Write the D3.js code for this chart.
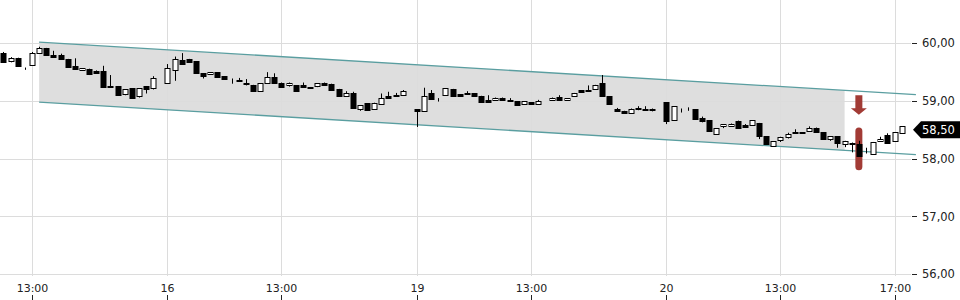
<!DOCTYPE html>
<html>
<head>
<meta charset="utf-8">
<script src="https://cdn.jsdelivr.net/npm/d3@7"></script>
<style>
  html, body { margin: 0; padding: 0; background: #fff; }
  svg { display: block; }
  text { font-family: "DejaVu Sans", sans-serif; }
</style>
</head>
<body>
<svg id="chart" width="960" height="300"></svg>
<script>
// ---- data ----
const startIndex = 12; // 15-minute bars, 35 per day (09:00-17:30)
const opens = [59.84,59.69,59.75,59.58,59.62,59.84,59.92,59.80,59.80,59.73,59.61,59.53,59.56,59.52,59.52,59.26,59.26,59.12,59.22,59.08,59.26,59.22,59.26,
  59.32,59.53,59.71,59.72,59.69,59.48,59.46,59.50,59.43,59.36,59.37,59.32,59.28,59.17,59.31,59.42,59.32,59.28,59.27,59.27,59.24,59.26,59.32,59.30,59.21,59.08,59.14,58.86,58.96,58.86,58.94,59.08,59.08,59.10,59.09,
  58.86,58.82,59.13,59.01,59.11,59.21,59.12,59.13,59.13,59.09,59.02,59.01,59.06,59.02,59.00,58.95,58.98,58.95,59.00,59.01,59.07,59.01,59.08,59.19,59.19,59.21,59.31,59.08,58.86,58.82,58.79,58.88,58.87,58.84,58.71,
  58.98,58.67,58.87,58.86,58.86,58.70,58.67,58.42,58.56,58.57,58.66,58.58,58.58,58.62,58.39,58.22,58.32,58.38,58.47,58.46,58.48,58.54,58.46,58.35,58.39,58.26,58.28,58.26,58.09,58.09,58.30,58.41,58.30,58.45,58.50];
const highs = [59.85,59.76,59.75,59.58,59.85,59.94,59.92,59.87,59.82,59.73,59.74,59.57,59.56,59.53,59.61,59.45,59.26,59.20,59.22,59.22,59.26,59.43,59.26,
  59.64,59.77,59.83,59.73,59.69,59.48,59.50,59.50,59.43,59.39,59.40,59.38,59.28,59.31,59.50,59.48,59.32,59.32,59.27,59.32,59.24,59.31,59.32,59.30,59.21,59.17,59.16,58.93,58.96,58.97,59.13,59.16,59.14,59.19,59.09,
  58.86,59.23,59.19,59.05,59.22,59.21,59.12,59.17,59.13,59.09,59.10,59.06,59.06,59.05,59.00,59.00,58.98,59.02,59.00,59.06,59.10,59.05,59.14,59.19,59.27,59.28,59.45,59.08,58.88,58.83,58.87,58.91,58.91,58.87,58.71,
  58.98,58.91,58.87,58.89,58.86,58.73,58.67,58.53,58.60,58.61,58.66,58.60,58.67,58.62,58.39,58.30,58.38,58.45,58.51,58.46,58.56,58.54,58.46,58.39,58.39,58.31,58.28,58.31,58.19,58.29,58.38,58.44,58.46,58.56,58.50];
const lows = [59.67,59.67,59.60,59.54,59.62,59.84,59.78,59.77,59.72,59.59,59.56,59.53,59.45,59.47,59.25,59.24,59.10,59.10,59.06,59.06,59.13,59.20,59.26,
  59.30,59.35,59.64,59.68,59.48,59.39,59.46,59.40,59.38,59.30,59.35,59.27,59.17,59.17,59.31,59.32,59.25,59.25,59.17,59.25,59.22,59.24,59.26,59.19,59.09,59.08,58.88,58.83,58.84,58.86,58.94,59.05,59.08,59.10,59.09,
  58.55,58.82,59.02,58.99,59.11,59.08,59.07,59.12,59.09,58.97,58.99,59.01,59.01,59.00,58.93,58.95,58.95,58.95,59.00,59.01,59.01,59.01,59.08,59.14,59.17,59.21,59.08,58.94,58.82,58.80,58.79,58.84,58.85,58.82,58.71,
  58.60,58.67,58.80,58.83,58.69,58.63,58.48,58.42,58.53,58.57,58.54,58.55,58.58,58.34,58.25,58.22,58.29,58.35,58.45,58.44,58.48,58.46,58.35,58.31,58.19,58.20,58.11,58.04,58.09,58.09,58.30,58.28,58.29,58.45,58.50];
const closes = [59.68,59.75,59.61,59.58,59.84,59.92,59.79,59.77,59.72,59.59,59.56,59.57,59.47,59.48,59.25,59.24,59.10,59.20,59.06,59.22,59.20,59.39,59.26,
  59.58,59.73,59.64,59.68,59.48,59.43,59.50,59.42,59.38,59.36,59.35,59.29,59.17,59.31,59.42,59.32,59.25,59.32,59.17,59.25,59.22,59.31,59.27,59.19,59.09,59.13,58.88,58.93,58.84,58.97,59.06,59.05,59.11,59.17,59.09,
  58.82,59.09,59.04,59.01,59.22,59.08,59.09,59.12,59.09,58.99,58.99,59.06,59.01,59.00,58.93,59.00,58.95,59.00,59.00,59.06,59.01,59.05,59.14,59.16,59.17,59.28,59.08,58.94,58.82,58.80,58.87,58.86,58.85,58.87,58.71,
  58.65,58.91,58.87,58.86,58.69,58.66,58.48,58.53,58.60,58.61,58.54,58.55,58.67,58.39,58.25,58.30,58.38,58.42,58.45,58.44,58.54,58.46,58.35,58.39,58.28,58.31,58.26,58.04,58.09,58.29,58.34,58.28,58.46,58.56,58.50];

const yTicks = [56, 57, 58, 59, 60];
const xTickIndex = [16, 35, 51, 70, 86, 105, 121, 137];
const xTickLabels = ["13:00", "16", "13:00", "19", "13:00", "20", "13:00", "17:00"];

// trend channel: [bar index, price]
const channelUpper = [[17, 60.02], [140, 59.11]];
const channelLower = [[17, 58.98], [140, 58.07]];
const channelFillEnd = 130;

// signal marker
const markerIndex = 132;
const markerRange = [57.80, 58.54];
const arrowRange = [59.10, 58.76];
const lastPrice = 58.50;

// ---- drawing ----
const W = 960, H = 300;
const plotRight = 911;
const svg = d3.select("#chart");

const x = d3.scaleLinear().domain([16, 137]).range([32, 894.5]);
const y = d3.scaleLinear().domain([56, 60]).range([274.1, 43.3]);
const fmt = v => d3.format(".2f")(v).replace(".", ",");

const gridColor = "#dcdcdc";

// channel fill
const lineAt = (pts, i) => pts[0][1] + (pts[1][1] - pts[0][1]) * (i - pts[0][0]) / (pts[1][0] - pts[0][0]);
const fillIdx = [channelUpper[0][0], channelFillEnd];
const area = d3.area().x(d => x(d)).y0(d => y(lineAt(channelLower, d))).y1(d => y(lineAt(channelUpper, d)));
svg.append("path").datum(fillIdx).attr("d", area).attr("fill", "#dedede");

// gridlines
const gY = svg.append("g");
gY.selectAll("line").data(yTicks).join("line")
  .attr("x1", 0).attr("x2", plotRight)
  .attr("y1", d => Math.round(y(d)) + 0.5).attr("y2", d => Math.round(y(d)) + 0.5)
  .attr("stroke", gridColor).attr("stroke-width", 1);
const gX = svg.append("g");
gX.selectAll("line").data(xTickIndex).join("line")
  .attr("y1", 0).attr("y2", 276)
  .attr("x1", d => Math.round(x(d)) + 0.5).attr("x2", d => Math.round(x(d)) + 0.5)
  .attr("stroke", gridColor).attr("stroke-width", 1);

// channel lines
const line = d3.line().x(d => x(d[0])).y(d => y(d[1]));
[channelUpper, channelLower].forEach(pts => {
  svg.append("path").datum(pts).attr("d", line)
    .attr("fill", "none").attr("stroke", "#5a9ea0").attr("stroke-width", 1.3);
});

// marker capsule (behind candle)
const markerColor = "#a23b35";
const capW = 7;
svg.append("rect")
  .attr("x", x(markerIndex) - capW / 2).attr("width", capW)
  .attr("y", y(markerRange[1])).attr("height", y(markerRange[0]) - y(markerRange[1]))
  .attr("rx", 3.5).attr("fill", markerColor);

// arrow
{
  const cx = x(markerIndex);
  const top = y(arrowRange[0]), tip = y(arrowRange[1]);
  const headH = (tip - top) * 0.34;
  const p = d3.path();
  p.moveTo(cx - 3.5, top); p.lineTo(cx + 3.5, top); p.lineTo(cx + 3.5, tip - headH);
  p.lineTo(cx + 8, tip - headH); p.lineTo(cx, tip); p.lineTo(cx - 8, tip - headH);
  p.lineTo(cx - 3.5, tip - headH); p.closePath();
  svg.append("path").attr("d", p.toString()).attr("fill", markerColor);
}

// candles
const bars = opens.map((o, i) => ({ i: startIndex + i, o, h: highs[i], l: lows[i], c: closes[i] }));
const bw = 5;
const gC = svg.append("g");
const cg = gC.selectAll("g").data(bars).join("g");
cg.append("line")
  .attr("x1", d => Math.round(x(d.i)) + 0.5).attr("x2", d => Math.round(x(d.i)) + 0.5)
  .attr("y1", d => y(d.h)).attr("y2", d => y(d.l))
  .attr("stroke", "#000").attr("stroke-width", 1);
cg.append("rect")
  .attr("x", d => Math.round(x(d.i)) - bw / 2 + 0.5)
  .attr("width", bw)
  .attr("y", d => Math.round(y(Math.max(d.o, d.c))) + 0.5)
  .attr("height", d => Math.max(0, Math.round(y(Math.min(d.o, d.c))) - Math.round(y(Math.max(d.o, d.c)))))
  .attr("fill", d => d.c >= d.o ? "#fff" : "#000")
  .attr("stroke", "#000").attr("stroke-width", 1);

// y axis labels + tick dashes
const gYA = svg.append("g");
gYA.selectAll("line").data(yTicks).join("line")
  .attr("x1", 912).attr("x2", 917)
  .attr("y1", d => Math.round(y(d)) + 0.5).attr("y2", d => Math.round(y(d)) + 0.5)
  .attr("stroke", "#222").attr("stroke-width", 1);
gYA.selectAll("text").data(yTicks).join("text")
  .attr("x", 922).attr("y", d => y(d)).attr("dy", "0.36em")
  .attr("font-size", 11.5).attr("fill", "#222").text(d => fmt(d));

// x axis labels + tick marks
const gXA = svg.append("g");
gXA.selectAll("text").data(xTickIndex).join("text")
  .attr("x", d => Math.round(x(d)) + 0.5).attr("y", 292)
  .attr("text-anchor", "middle").attr("font-size", 11).attr("fill", "#222")
  .text((d, k) => xTickLabels[k]);
gXA.selectAll("line").data(xTickIndex).join("line")
  .attr("x1", d => Math.round(x(d)) + 0.5).attr("x2", d => Math.round(x(d)) + 0.5)
  .attr("y1", 295).attr("y2", 300).attr("stroke", "#222").attr("stroke-width", 1);

// last price label
{
  const yy = y(lastPrice);
  const g = svg.append("g");
  g.append("path")
    .attr("d", `M913,${yy} L921,${yy - 8.5} L960,${yy - 8.5} L960,${yy + 8.5} L921,${yy + 8.5} Z`)
    .attr("fill", "#000");
  g.append("text").attr("x", 922).attr("y", yy).attr("dy", "0.36em")
    .attr("font-size", 11.5).attr("fill", "#fff").text(fmt(lastPrice));
}
</script>
</body>
</html>
